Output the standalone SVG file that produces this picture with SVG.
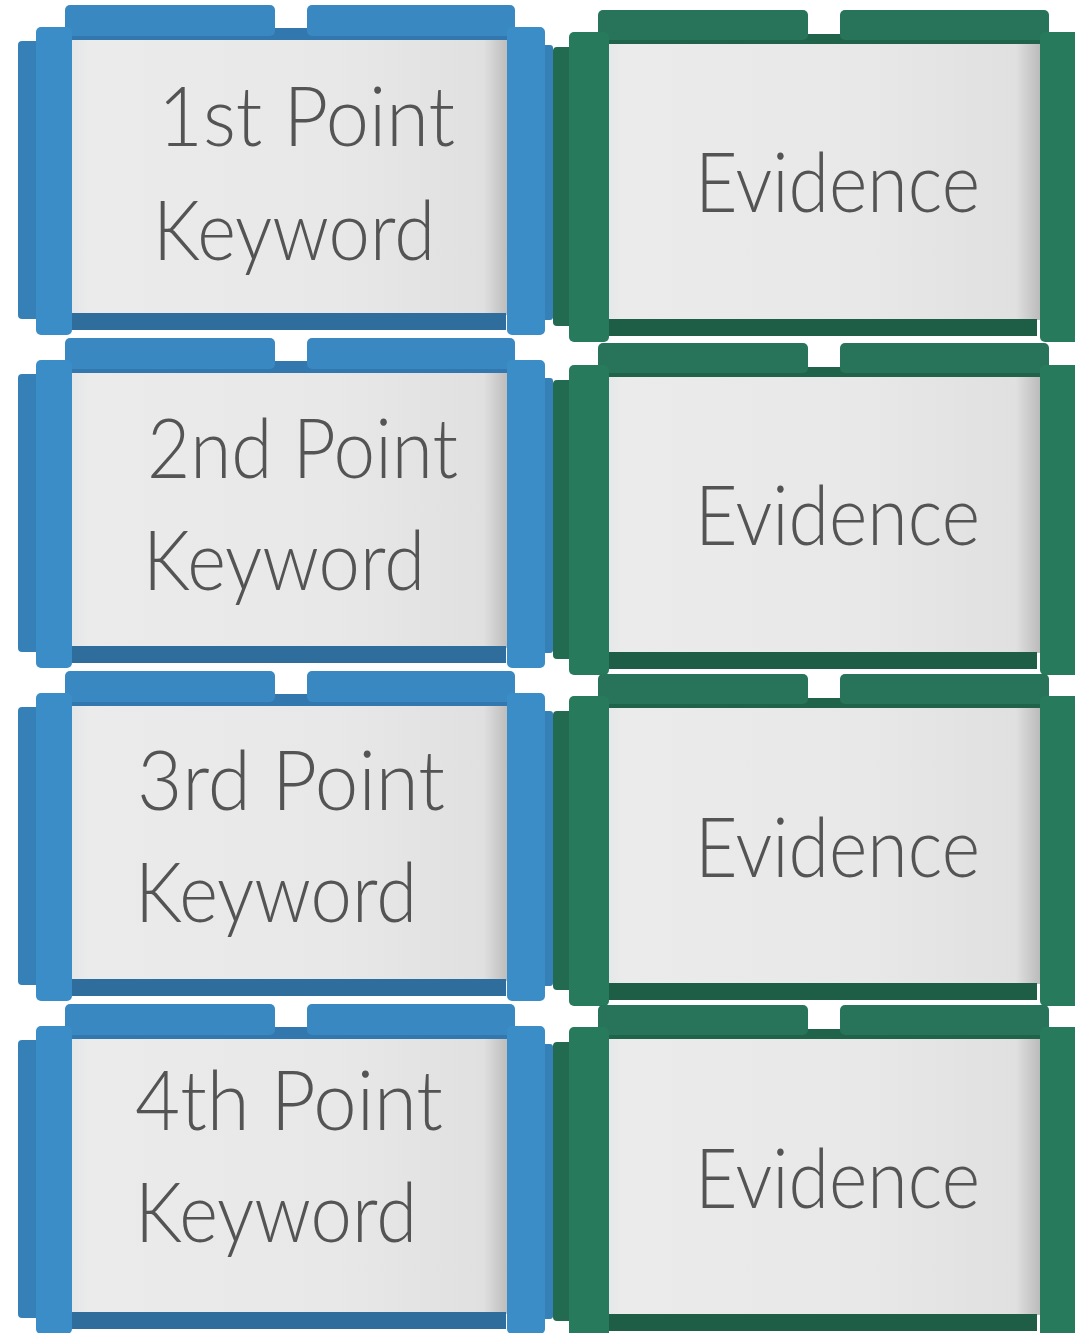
<svg xmlns="http://www.w3.org/2000/svg" xmlns:xlink="http://www.w3.org/1999/xlink" width="1075" height="1333" viewBox="0 0 1075 1333">
<style>
.lbl{font-family:"Lato","Open Sans","Liberation Sans",sans-serif;font-weight:300;font-size:82px;fill:#545454;}
.bTab{fill:#3a88c1;}
.bBar{fill:#3277ad;}
.bBot{fill:#2f6d9c;}
.bOut{fill:#3680b8;}
.bPost{fill:#3b8dc8;}
.gTab{fill:#27745a;}
.gBar{fill:#1f644a;}
.gBot{fill:#1e5d46;}
.gOut{fill:#226a50;}
.gPost{fill:#277a5c;}
</style>
<defs>
<linearGradient id="board" x1="0" y1="0" x2="1" y2="0">
<stop offset="0" stop-color="#e4e6e8"/>
<stop offset="0.04" stop-color="#ebebeb"/>
<stop offset="0.6" stop-color="#e8e8e8"/>
<stop offset="0.94" stop-color="#e0e0e0"/>
<stop offset="1" stop-color="#b8b8b8"/>
</linearGradient>
<g id="blueFrame">
<rect class="bBar" x="62" y="28" width="455" height="14"/>
<rect class="bTab" x="65" y="5" width="210" height="31" rx="5"/>
<rect class="bTab" x="307" y="5" width="208" height="31" rx="5"/>
<rect fill="url(#board)" x="72" y="40" width="438" height="275"/>
<rect class="bBot" x="72" y="313" width="434" height="17"/>
<rect class="bOut" x="18" y="41" width="22" height="278" rx="4"/>
<rect class="bOut" x="535" y="45" width="18" height="275" rx="3"/>
<rect class="bPost" x="36" y="27" width="36" height="308" rx="5"/>
<rect class="bPost" x="507" y="27" width="38" height="308" rx="5"/>
</g>
<g id="greenFrame">
<rect class="gBar" x="600" y="34" width="445" height="13"/>
<rect class="gTab" x="598" y="10" width="210" height="30" rx="5"/>
<rect class="gTab" x="840" y="10" width="209" height="30" rx="5"/>
<rect fill="url(#board)" x="605" y="44" width="437" height="276"/>
<rect class="gBot" x="605" y="319" width="432" height="17"/>
<rect class="gOut" x="553" y="47" width="20" height="279" rx="4"/>
<rect class="gPost" x="569" y="32" width="40" height="310" rx="5"/>
<rect class="gPost" x="1040" y="32" width="45" height="310" rx="5"/>
</g>
</defs>
<g id="connectors"></g>
<g id="point1">
<use xlink:href="#blueFrame"/>
<text class="lbl" x="158" y="146" textLength="297" lengthAdjust="spacingAndGlyphs">1st Point</text>
<text class="lbl" x="153" y="260" textLength="282" lengthAdjust="spacingAndGlyphs">Keyword</text>
</g>
<g id="evidence1">
<use xlink:href="#greenFrame"/>
<text class="lbl" x="695" y="212" textLength="285" lengthAdjust="spacingAndGlyphs">Evidence</text>
</g>
<g id="point2">
<use xlink:href="#blueFrame" y="333"/>
<text class="lbl" x="147" y="478" textLength="311" lengthAdjust="spacingAndGlyphs">2nd Point</text>
<text class="lbl" x="143" y="590" textLength="282" lengthAdjust="spacingAndGlyphs">Keyword</text>
</g>
<g id="evidence2">
<use xlink:href="#greenFrame" y="333"/>
<text class="lbl" x="695" y="545" textLength="285" lengthAdjust="spacingAndGlyphs">Evidence</text>
</g>
<g id="point3">
<use xlink:href="#blueFrame" y="666"/>
<text class="lbl" x="137" y="810" textLength="308" lengthAdjust="spacingAndGlyphs">3rd Point</text>
<text class="lbl" x="135" y="922" textLength="282" lengthAdjust="spacingAndGlyphs">Keyword</text>
</g>
<g id="evidence3">
<use xlink:href="#greenFrame" y="664"/>
<text class="lbl" x="695" y="877" textLength="285" lengthAdjust="spacingAndGlyphs">Evidence</text>
</g>
<g id="point4">
<use xlink:href="#blueFrame" y="999"/>
<text class="lbl" x="135" y="1130" textLength="308" lengthAdjust="spacingAndGlyphs">4th Point</text>
<text class="lbl" x="135" y="1242" textLength="282" lengthAdjust="spacingAndGlyphs">Keyword</text>
</g>
<g id="evidence4">
<use xlink:href="#greenFrame" y="995"/>
<text class="lbl" x="695" y="1208" textLength="285" lengthAdjust="spacingAndGlyphs">Evidence</text>
</g>
</svg>
